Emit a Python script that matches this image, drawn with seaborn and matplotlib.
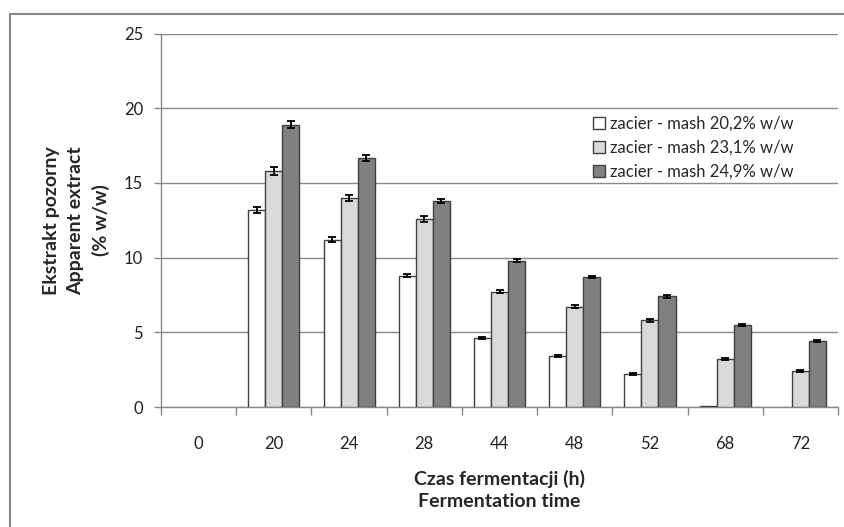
import matplotlib
matplotlib.use("Agg")
import matplotlib.pyplot as plt
import seaborn as sns
import pandas as pd
import numpy as np
from matplotlib.patches import Rectangle

categories = ["0", "20", "24", "28", "44", "48", "52", "68", "72"]
series_names = ["zacier - mash 20,2% w/w", "zacier - mash 23,1% w/w", "zacier - mash 24,9% w/w"]
mash_202 = [0.0, 13.2, 11.2, 8.8, 4.6, 3.4, 2.2, 0.1, 0.0]
mash_231 = [0.0, 15.8, 14.0, 12.6, 7.7, 6.7, 5.8, 3.2, 2.4]
mash_249 = [0.0, 18.9, 16.7, 13.8, 9.8, 8.7, 7.4, 5.5, 4.4]
err_202 = [0.0, 0.2, 0.15, 0.12, 0.08, 0.08, 0.05, 0.0, 0.0]
err_231 = [0.0, 0.25, 0.2, 0.2, 0.1, 0.1, 0.1, 0.08, 0.06]
err_249 = [0.0, 0.22, 0.2, 0.15, 0.12, 0.08, 0.1, 0.06, 0.06]
colors = ["#FFFFFF", "#D9D9D9", "#808080"]

sns.set_theme(style="white")
plt.rcParams["font.family"] = ["Lato", "DejaVu Sans"]

rows = []
for name, vals, errs in zip(series_names, [mash_202, mash_231, mash_249], [err_202, err_231, err_249]):
    for c, v, e in zip(categories, vals, errs):
        rows.append({"time": c, "value": v, "err": e, "series": name})
df = pd.DataFrame(rows)

fig = plt.figure(figsize=(8.44, 5.27), dpi=100)
ax = fig.add_axes([0.1908, 0.2277, 0.8021, 0.7087])

sns.barplot(data=df, x="time", y="value", hue="series", order=categories,
            hue_order=series_names, palette=colors, width=0.68, errorbar=None,
            edgecolor="#404040", linewidth=1.0, saturation=1, ax=ax, zorder=3)

# error bars placed at the bars seaborn drew
for container, name in zip(ax.containers, series_names):
    sub = df[df["series"] == name].set_index("time").loc[categories]
    for p in container.patches:
        if p.get_height() <= 0:
            p.set_visible(False)
    xs = np.array([p.get_x() + p.get_width() / 2 for p in container.patches])
    hs = np.array([p.get_height() for p in container.patches])
    errs = sub["err"].values
    mask = hs > 0.5
    ax.errorbar(xs[mask], hs[mask], yerr=errs[mask], fmt="none",
                ecolor="black", elinewidth=1.3, capsize=3, capthick=1.3, zorder=4)

ax.set_ylim(0, 25)
ax.set_xlim(-0.5, len(categories) - 0.5)
ax.set_yticks([0, 5, 10, 15, 20, 25])
ax.yaxis.grid(True, color="#888888", linewidth=1.0)
ax.set_axisbelow(True)
for s in ["top", "right"]:
    ax.spines[s].set_visible(False)
for s in ["left", "bottom"]:
    ax.spines[s].set_color("#888888")
    ax.spines[s].set_linewidth(1.0)

ax.tick_params(axis="y", which="major", length=5, width=1, color="#888888", direction="out",
               left=True, pad=8, labelsize=12, labelcolor="#222222")
ax.tick_params(axis="x", which="major", length=0, pad=21, labelsize=12, labelcolor="#222222")
ax.set_xticks(np.arange(-0.5, len(categories) - 0.4, 1), minor=True)
ax.tick_params(axis="x", which="minor", length=6, width=1, color="#888888", direction="out", bottom=True)

ax.set_xlabel("Czas fermentacji (h)\nFermentation time", fontsize=14, fontweight="bold",
              linespacing=1.4)
ax.xaxis.set_label_coords(0.5, -0.168)
ax.set_ylabel("Ekstrakt pozorny\nApparent extract\n(% w/w)", fontsize=14, fontweight="bold",
              linespacing=1.5)
ax.yaxis.set_label_coords(-0.076, 0.5)

ax.legend(loc="upper left", bbox_to_anchor=(0.638, 0.78), frameon=False, fontsize=12,
          handlelength=0.7, handleheight=0.7, handletextpad=0.3, labelspacing=0.48,
          borderaxespad=0, borderpad=0)

# outer chart border
fig.patches.append(Rectangle((10 / 844, -0.05), 1.2, (527 - 14) / 527 + 0.05,
                             transform=fig.transFigure, fill=False,
                             edgecolor="#888888", linewidth=1.5))

fig.savefig("out.png", dpi=100)
